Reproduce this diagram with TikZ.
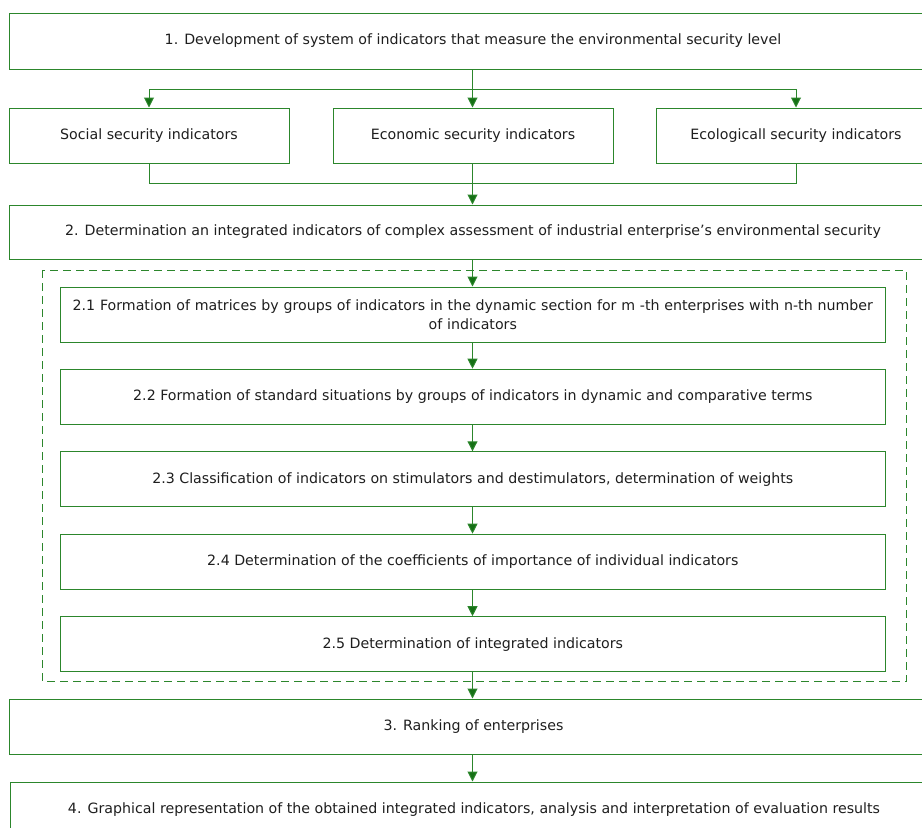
\documentclass[tikz,border=0pt]{standalone}
\usepackage{fontspec}
\setmainfont{DejaVu Sans}
\usetikzlibrary{arrows.meta}
\definecolor{flowgreen}{RGB}{44,134,44}
\definecolor{tipgreen}{RGB}{22,112,22}
\definecolor{inkgray}{RGB}{30,30,30}
\begin{document}
\begin{tikzpicture}[x=1pt,y=-1pt,
  box/.style={draw=flowgreen, line width=1pt, rectangle, inner sep=0pt,
    align=center, text=inkgray, font=\fontsize{14.2}{19}\selectfont},
  widebox/.style={box, minimum width=928pt, minimum height=55pt},
  branchbox/.style={box, minimum width=280pt, minimum height=55pt},
  stagebox/.style={box, minimum width=825pt, minimum height=55pt},
  link/.style={draw=flowgreen, line width=1pt},
  flow/.style={link, -{Triangle[width=10pt,length=10pt,fill=tipgreen]}},
  group/.style={draw=flowgreen, line width=1pt, dash pattern=on 8pt off 5pt}
]
\useasboundingbox (0,0) rectangle (922,828);

% stage 1 and its three groups of indicators
\node[widebox, minimum height=56pt] (dev) at (473,41)
  {1. Development of system of indicators that measure the environmental security level};
\node[branchbox] (social) at (149,135.5) {Social security indicators};
\node[branchbox] (econ) at (473,135.5) {Economic security indicators};
\node[branchbox] (ecol) at (796,135.5) {Ecologicall security indicators};

% stage 2
\node[widebox, minimum height=54pt] (integ) at (473,232)
  {2. Determination an integrated indicators of complex assessment of industrial enterprise’s environmental security};

% sub-steps of stage 2
\draw[group] (42.7,270) rectangle (906,681.7);
\node[stagebox, text width=812pt] (s1) at (472.8,314.5)
  {2.1 Formation of matrices by groups of indicators in the dynamic section for m -th enterprises with n-th number\\ of indicators};
\node[stagebox] (s2) at (472.8,396.7)
  {2.2 Formation of standard situations by groups of indicators in dynamic and comparative terms};
\node[stagebox] (s3) at (472.8,479.3)
  {2.3 Classification of indicators on stimulators and destimulators, determination of weights};
\node[stagebox] (s4) at (472.8,561.7)
  {2.4 Determination of the coefficients of importance of individual indicators};
\node[stagebox] (s5) at (472.8,644.2)
  {2.5 Determination of integrated indicators};

% stages 3 and 4
\node[widebox] (rank) at (473.5,726.5) {3. Ranking of enterprises};
\node[widebox] (graph) at (474,809.5)
  {4. Graphical representation of the obtained integrated indicators, analysis and interpretation of evaluation results};

% connectors
\coordinate (split) at (472.5,89);
\coordinate (merge) at (472.5,183.5);
\draw[flow] (dev.south -| split) -- (econ.north -| split);
\draw[flow] (split) -| (social.north);
\draw[flow] (split) -| (ecol.north);
\draw[link] (social.south) |- (merge) -| (ecol.south);
\draw[flow] (econ.south -| split) -- (integ.north -| split);
\draw[flow] (integ.south -| split) -- (s1.north -| split);
\draw[flow] (s1.south -| split) -- (s2.north -| split);
\draw[flow] (s2.south -| split) -- (s3.north -| split);
\draw[flow] (s3.south -| split) -- (s4.north -| split);
\draw[flow] (s4.south -| split) -- (s5.north -| split);
\draw[flow] (s5.south -| split) -- (rank.north -| split);
\draw[flow] (rank.south -| split) -- (graph.north -| split);
\end{tikzpicture}
\end{document}
